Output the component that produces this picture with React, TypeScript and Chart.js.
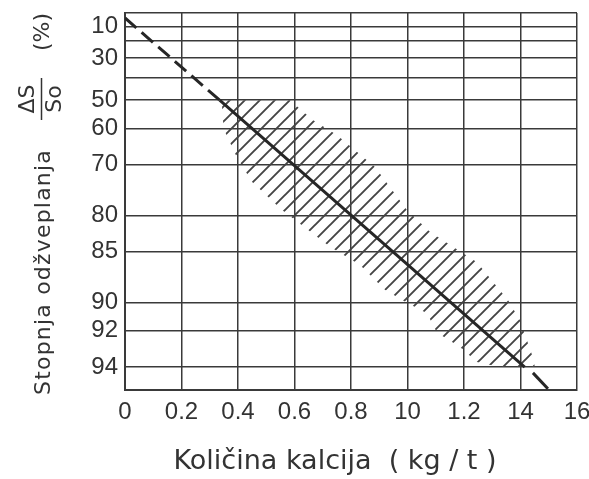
import React, { useEffect, useRef } from 'react';
import { Chart, registerables } from 'chart.js';

Chart.register(...registerables);

// ---- axes ----
const X_TICKS = [0, 0.2, 0.4, 0.6, 0.8, 1.0, 1.2, 1.4, 1.6];
// tick labels exactly as printed on the original figure
const X_TICK_LABELS = ['0', '0.2', '0.4', '0.6', '0.8', '10', '1.2', '14', '16'];
// desulphurisation degree grid lines (%); scale is logarithmic in (100 - value)
const Y_GRID = [0, 10, 20, 30, 40, 50, 60, 70, 80, 85, 90, 92, 94, 95];
const Y_TICK_LABELS = [10, 30, 50, 60, 70, 80, 85, 90, 92, 94];

const X_TITLE = 'Količina kalcija  ( kg / t )';
const Y_TITLE = 'Stopnja odžveplanja';
const FRACTION_TOP = 'ΔS';
const FRACTION_BOTTOM = 'So';
const UNIT = '(%)';

// ---- trend line ----
const LINE_DASHED_TOP_X = [0, 0.335];
const LINE_DASHED_TOP_Y = [3.9, 50];
const LINE_SOLID_X = [0.335, 1.415];
const LINE_SOLID_Y = [50, 94];
const LINE_DASHED_END_X = [1.444, 1.497];
const LINE_DASHED_END_Y = [94.27, 94.95];

// ---- hatched scatter band (closed outline) ----
const BAND_X = [
  0.343, 0.584, 0.665, 0.75, 0.885, 0.998, 1.08, 1.246, 1.356, 1.398, 1.441, 1.451,
  1.327, 1.246, 1.186, 1.104, 1.069, 0.998, 0.92, 0.832, 0.726, 0.556, 0.45, 0.396, 0.354, 0.345,
];
const BAND_Y = [
  50, 50, 57.3, 62.1, 70.6, 79.1, 82.45, 86.2, 89.8, 91.3, 93.4, 94.0,
  94.0, 93.75, 92.96, 92.1, 90.8, 90.0, 88.9, 86.5, 84.4, 79.1, 73.9, 68.2, 61.1, 56.6,
];

const INK = '#333333';
const GRID = '#3a3a3a';
const TICK_FONT = { family: '"Liberation Sans", Arial, sans-serif', size: 24 };

const toPoints = (xs: number[], ys: number[]) =>
  xs.map((x, i) => ({ x, y: 100 - ys[i] }));

function makeHatch(): CanvasPattern | string {
  const s = 15;
  const c = document.createElement('canvas');
  c.width = s;
  c.height = s;
  const g = c.getContext('2d');
  if (!g) return '#888';
  g.strokeStyle = '#444444';
  g.lineWidth = 1.9;
  g.beginPath();
  g.moveTo(-2, s + 2);
  g.lineTo(s + 2, -2);
  g.moveTo(-3, 3);
  g.lineTo(3, -3);
  g.moveTo(s - 3, s + 3);
  g.lineTo(s + 3, s - 3);
  g.stroke();
  return g.createPattern(c, 'repeat') || '#888';
}

const titlePlugin = {
  id: 'axisTitles',
  afterDraw(chart: any) {
    const { ctx, chartArea } = chart;
    ctx.save();
    ctx.fillStyle = INK;
    ctx.strokeStyle = INK;
    ctx.textAlign = 'center';
    ctx.textBaseline = 'middle';

    // x title
    ctx.font = '27px "DejaVu Sans", sans-serif';
    ctx.fillText(X_TITLE, chartArea.left + 210, chartArea.bottom + 72);

    // y title
    ctx.font = '22px "DejaVu Sans", sans-serif';
    ctx.save();
    ctx.translate(chartArea.left - 81, chartArea.top + 259);
    ctx.rotate(-Math.PI / 2);
    (ctx as any).letterSpacing = '1.2px';
    ctx.fillText(Y_TITLE, 0, 0);
    (ctx as any).letterSpacing = '0px';
    ctx.restore();

    // fraction ΔS / So
    ctx.save();
    ctx.translate(chartArea.left - 84, chartArea.top + 86);
    ctx.rotate(-Math.PI / 2);
    ctx.textBaseline = 'bottom';
    ctx.fillText(FRACTION_TOP, 0, -2);
    ctx.textBaseline = 'top';
    ctx.fillText(FRACTION_BOTTOM, 0, 3);
    ctx.lineWidth = 1.5;
    ctx.beginPath();
    ctx.moveTo(-21, 0.5);
    ctx.lineTo(21, 0.5);
    ctx.stroke();
    ctx.restore();

    // (%)
    ctx.save();
    ctx.translate(chartArea.left - 82, chartArea.top + 19);
    ctx.rotate(-Math.PI / 2);
    ctx.fillText(UNIT, 0, 0);
    ctx.restore();

    ctx.restore();
  },
};

export default function App() {
  const ref = useRef<HTMLCanvasElement>(null);

  useEffect(() => {
    if (!ref.current) return;
    const hatch = makeHatch();
    const lineStyle = {
      borderColor: '#262626',
      borderWidth: 3,
      pointRadius: 0,
      fill: false,
      tension: 0,
    };
    const chart = new Chart(ref.current, {
      type: 'line',
      data: {
        datasets: [
          { ...lineStyle, data: toPoints(LINE_SOLID_X, LINE_SOLID_Y) },
          { ...lineStyle, data: toPoints(LINE_DASHED_TOP_X, LINE_DASHED_TOP_Y), borderDash: [15, 7] },
          { ...lineStyle, data: toPoints(LINE_DASHED_END_X, LINE_DASHED_END_Y) },
          {
            data: toPoints(BAND_X, BAND_Y),
            borderWidth: 0,
            borderColor: 'rgba(0,0,0,0)',
            pointRadius: 0,
            backgroundColor: hatch as any,
            fill: 'shape',
            tension: 0,
          },
        ],
      },
      options: {
        animation: false,
        responsive: false,
        devicePixelRatio: 1,
        layout: { padding: { left: 0, top: 13, right: 12, bottom: 0 } },
        plugins: { legend: { display: false }, tooltip: { enabled: false } },
        events: [],
        scales: {
          x: {
            type: 'linear',
            min: 0,
            max: 1.6,
            afterBuildTicks: (s: any) => {
              s.ticks = X_TICKS.map((v) => ({ value: v }));
            },
            afterFit: (s: any) => {
              s.height = 89;
              s.paddingLeft = 0;
              s.paddingRight = 0;
            },
            ticks: {
              autoSkip: false,
              maxRotation: 0,
              padding: 8,
              color: INK,
              font: TICK_FONT,
              callback: (_v: any, i: number) => X_TICK_LABELS[i],
            },
            grid: { color: GRID, lineWidth: 1.5, drawTicks: false },
            border: { color: GRID, width: 2 },
          },
          y: {
            type: 'logarithmic',
            min: 5,
            max: 100,
            afterBuildTicks: (s: any) => {
              s.ticks = Y_GRID.map((v) => ({ value: 100 - v }));
            },
            afterFit: (s: any) => {
              s.width = 125;
              s.paddingTop = 0;
              s.paddingBottom = 0;
            },
            ticks: {
              autoSkip: false,
              padding: 7,
              color: INK,
              font: TICK_FONT,
              callback: (v: any) => {
                const p = Math.round(100 - Number(v));
                return Y_TICK_LABELS.includes(p) ? String(p) : '';
              },
            },
            grid: { color: GRID, lineWidth: 1.5, drawTicks: false },
            border: { color: GRID, width: 2 },
          },
        },
      },
      plugins: [titlePlugin],
    } as any);
    return () => chart.destroy();
  }, []);

  return (
    <div style={{ position: 'absolute', left: 0, top: 0, width: 589, height: 479, background: '#fff' }}>
      <canvas ref={ref} width={589} height={479} style={{ display: 'block' }} />
    </div>
  );
}
